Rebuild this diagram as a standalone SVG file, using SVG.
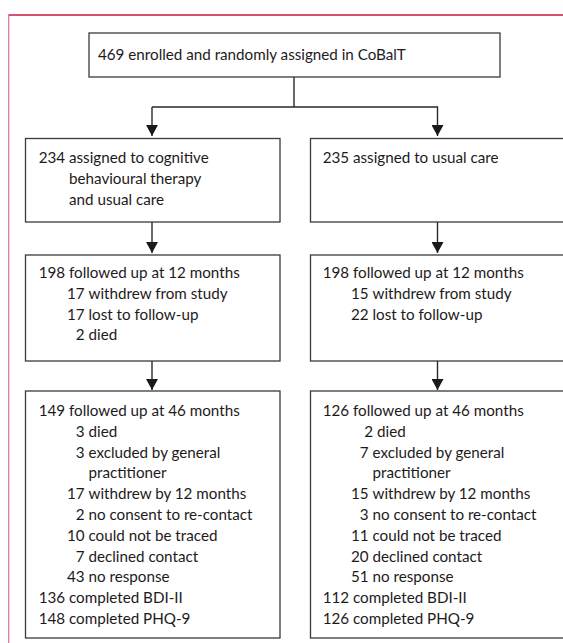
<svg xmlns="http://www.w3.org/2000/svg" width="563" height="643" viewBox="0 0 563 643">
<style>
.bg{fill:#ffffff}
.box{fill:#ffffff;stroke:#3a3a3a;stroke-width:1.3}
.con{fill:none;stroke:#2a2a2a;stroke-width:1.4}
.t{font-family:Lato,"Open Sans","Liberation Sans",sans-serif;font-size:15.2px;fill:#1e1a1b}
.n{text-anchor:end}
</style>
<defs>
<marker id="ah" markerUnits="userSpaceOnUse" viewBox="0 0 11 12" markerWidth="11" markerHeight="12" refX="11" refY="6" orient="auto">
<path d="M0,0 L11,6 L0,12 Z" fill="#1a1a1a"/>
</marker>
</defs>
<rect class="bg" x="0" y="0" width="563" height="643"/>
<g id="frame">
<line x1="8.5" y1="15" x2="563" y2="15" stroke="#c8163f" stroke-width="1.3"/>
<line x1="8.7" y1="15" x2="8.7" y2="643" stroke="#d9668a" stroke-width="1.1"/>
</g>
<g id="connectors">
<polyline class="con" points="294,77 294,107"/>
<polyline class="con" points="152,107 437.5,107 437.5,136" marker-end="url(#ah)"/>
<line class="con" x1="152" y1="107" x2="152" y2="136" marker-end="url(#ah)"/>
<line class="con" x1="152" y1="222" x2="152" y2="253" marker-end="url(#ah)"/>
<line class="con" x1="437.5" y1="222" x2="437.5" y2="253" marker-end="url(#ah)"/>
<line class="con" x1="152" y1="361" x2="152" y2="390" marker-end="url(#ah)"/>
<line class="con" x1="437.5" y1="361" x2="437.5" y2="390" marker-end="url(#ah)"/>
</g>
<g id="n_enrolled">
<rect class="box" x="89" y="33" width="411" height="44"/>
<text class="t" x="98" y="60">469 enrolled and randomly assigned in CoBalT</text>
</g>
<g id="n_cbt">
<rect class="box" x="25.5" y="138.5" width="254.5" height="83.5"/>
<text class="t" y="163"><tspan class="n" x="69">234 </tspan><tspan x="69">assigned to cognitive</tspan></text>
<text class="t" x="69" y="184">behavioural therapy</text>
<text class="t" x="69" y="204.5">and usual care</text>
</g>
<g id="n_usual">
<rect class="box" x="310.5" y="138.5" width="254.5" height="83.5"/>
<text class="t" y="163"><tspan class="n" x="353">235 </tspan><tspan x="353">assigned to usual care</tspan></text>
</g>
<g id="n_cbt12">
<rect class="box" x="25.5" y="255" width="254.5" height="106"/>
<text class="t" y="278"><tspan class="n" x="69">198 </tspan><tspan x="69">followed up at 12 months</tspan></text>
<text class="t" y="298.8"><tspan class="n" x="88.5">17 </tspan><tspan x="88.5">withdrew from study</tspan></text>
<text class="t" y="319.6"><tspan class="n" x="88.5">17 </tspan><tspan x="88.5">lost to follow-up</tspan></text>
<text class="t" y="340.4"><tspan class="n" x="88.5">2 </tspan><tspan x="88.5">died</tspan></text>
</g>
<g id="n_usual12">
<rect class="box" x="310.5" y="255" width="254.5" height="106"/>
<text class="t" y="278"><tspan class="n" x="353">198 </tspan><tspan x="353">followed up at 12 months</tspan></text>
<text class="t" y="298.8"><tspan class="n" x="372.5">15 </tspan><tspan x="372.5">withdrew from study</tspan></text>
<text class="t" y="319.6"><tspan class="n" x="372.5">22 </tspan><tspan x="372.5">lost to follow-up</tspan></text>
</g>
<g id="n_cbt46">
<rect class="box" x="25.5" y="391" width="254.5" height="247"/>
<text class="t" y="416"><tspan class="n" x="69">149 </tspan><tspan x="69">followed up at 46 months</tspan></text>
<text class="t" y="436.8"><tspan class="n" x="88.5">3 </tspan><tspan x="88.5">died</tspan></text>
<text class="t" y="457.6"><tspan class="n" x="88.5">3 </tspan><tspan x="88.5">excluded by general</tspan></text>
<text class="t" x="88.5" y="478.4">practitioner</text>
<text class="t" y="499.2"><tspan class="n" x="88.5">17 </tspan><tspan x="88.5">withdrew by 12 months</tspan></text>
<text class="t" y="520"><tspan class="n" x="88.5">2 </tspan><tspan x="88.5">no consent to re-contact</tspan></text>
<text class="t" y="540.8"><tspan class="n" x="88.5">10 </tspan><tspan x="88.5">could not be traced</tspan></text>
<text class="t" y="561.6"><tspan class="n" x="88.5">7 </tspan><tspan x="88.5">declined contact</tspan></text>
<text class="t" y="582.4"><tspan class="n" x="88.5">43 </tspan><tspan x="88.5">no response</tspan></text>
<text class="t" y="603.2"><tspan class="n" x="69">136 </tspan><tspan x="69">completed BDI-II</tspan></text>
<text class="t" y="624"><tspan class="n" x="69">148 </tspan><tspan x="69">completed PHQ-9</tspan></text>
</g>
<g id="n_usual46">
<rect class="box" x="310.5" y="391" width="254.5" height="247"/>
<text class="t" y="416"><tspan class="n" x="353">126 </tspan><tspan x="353">followed up at 46 months</tspan></text>
<text class="t" y="436.8"><tspan class="n" x="377">2 </tspan><tspan x="377">died</tspan></text>
<text class="t" y="457.6"><tspan class="n" x="372.5">7 </tspan><tspan x="372.5">excluded by general</tspan></text>
<text class="t" x="372.5" y="478.4">practitioner</text>
<text class="t" y="499.2"><tspan class="n" x="372.5">15 </tspan><tspan x="372.5">withdrew by 12 months</tspan></text>
<text class="t" y="520"><tspan class="n" x="372.5">3 </tspan><tspan x="372.5">no consent to re-contact</tspan></text>
<text class="t" y="540.8"><tspan class="n" x="372.5">11 </tspan><tspan x="372.5">could not be traced</tspan></text>
<text class="t" y="561.6"><tspan class="n" x="372.5">20 </tspan><tspan x="372.5">declined contact</tspan></text>
<text class="t" y="582.4"><tspan class="n" x="372.5">51 </tspan><tspan x="372.5">no response</tspan></text>
<text class="t" y="603.2"><tspan class="n" x="353">112 </tspan><tspan x="353">completed BDI-II</tspan></text>
<text class="t" y="624"><tspan class="n" x="353">126 </tspan><tspan x="353">completed PHQ-9</tspan></text>
</g>
</svg>
